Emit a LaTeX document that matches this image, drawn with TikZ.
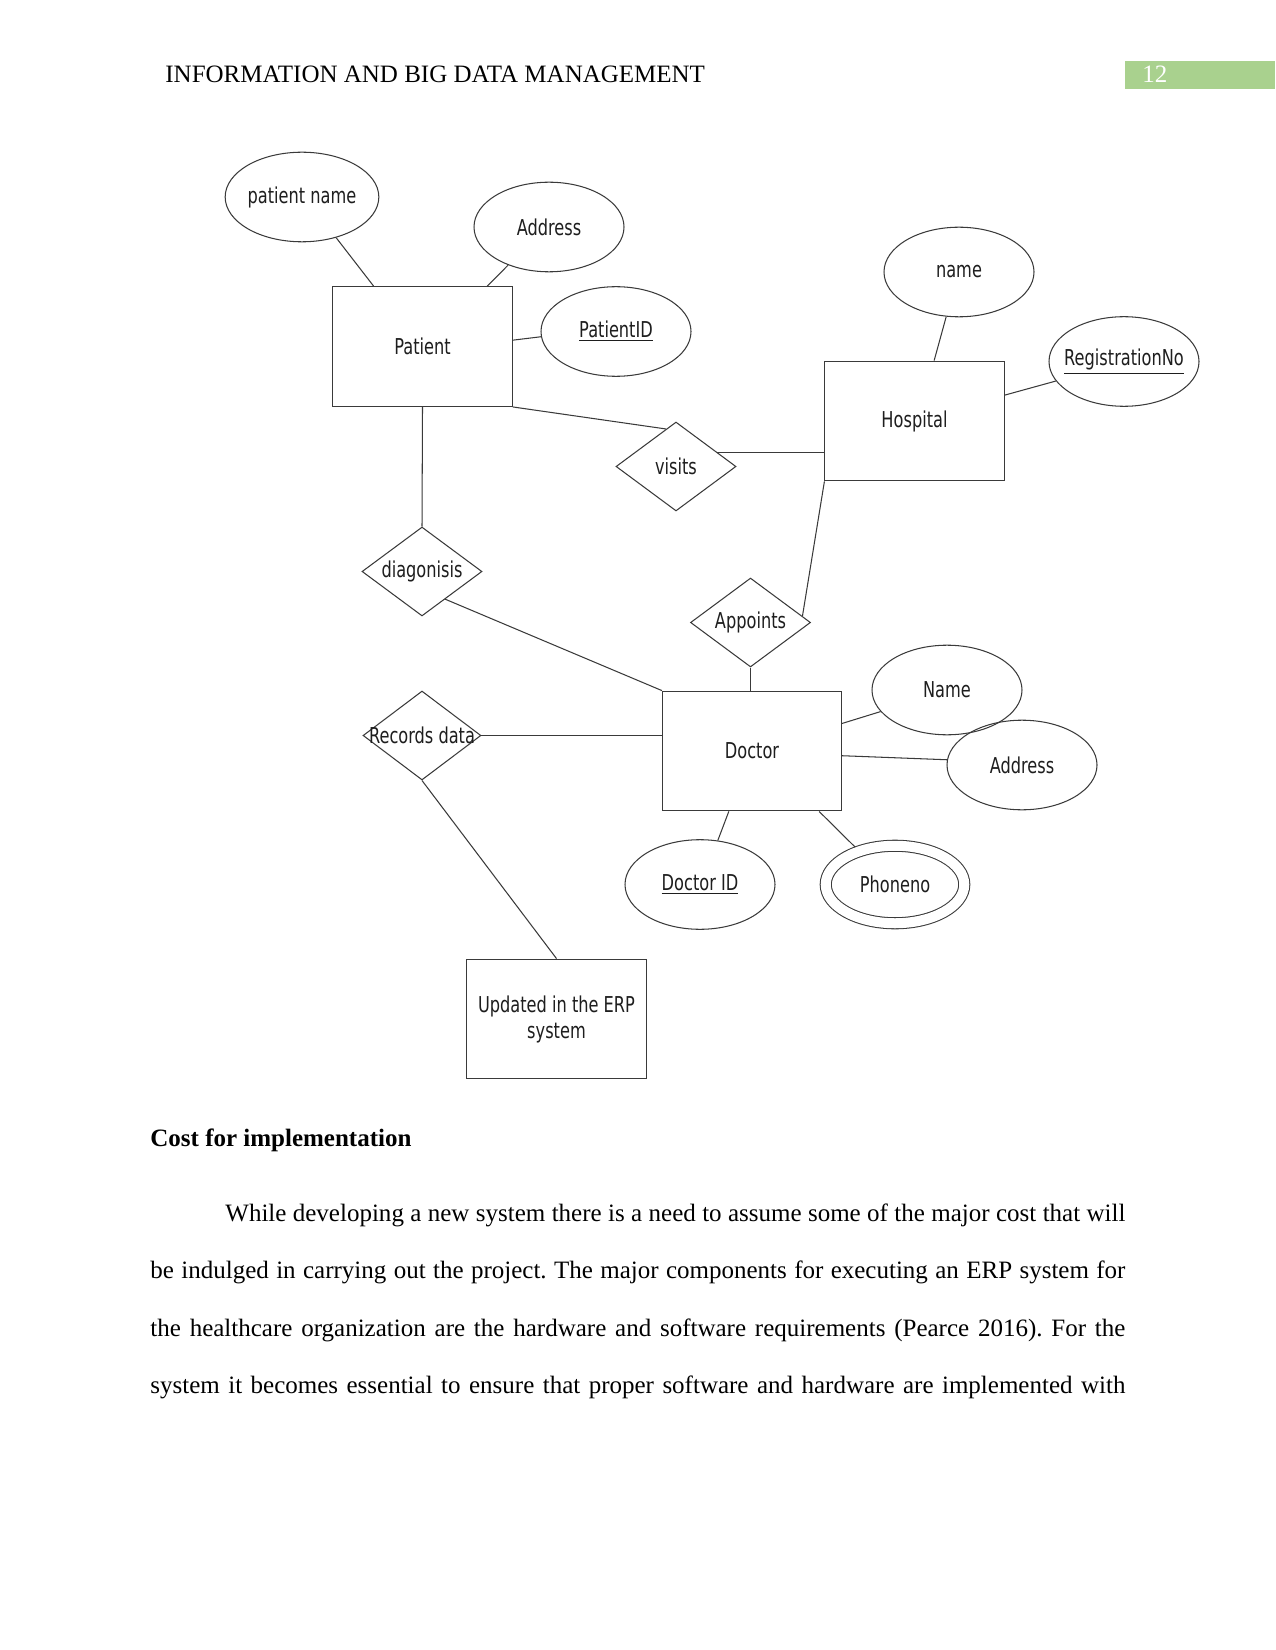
\documentclass[tikz,border=0pt]{standalone}
\usepackage{fontspec}
\setmainfont{Liberation Serif}
\newfontfamily\erfont[FakeStretch=0.74]{DejaVu Sans}
\usetikzlibrary{shapes.geometric,calc}
\definecolor{erline}{HTML}{3A3A3A}
\definecolor{ertext}{HTML}{1E1E1E}
\definecolor{pagegreen}{HTML}{A9D18E}
\frenchspacing

\begin{document}
\begin{tikzpicture}[
    x=0.48pt, y=-0.48pt,
    ertxt/.style={font=\erfont\fontsize{10.5}{12.5}\selectfont, text=ertext},
    ent/.style={draw=erline, line width=0.5pt, minimum width=86pt, minimum height=57.5pt,
                inner sep=0pt, align=center, ertxt},
    attr/.style={ellipse, draw=erline, line width=0.5pt, minimum width=72pt,
                 minimum height=43pt, inner sep=0pt, ertxt},
    rel/.style={diamond, draw=erline, line width=0.5pt, minimum width=57.6pt,
                minimum height=42.7pt, inner sep=0pt},
    link/.style={draw=erline, line width=0.5pt},
    body/.style={anchor=base west, inner sep=0pt, font=\fontsize{12}{14}\selectfont}
  ]
  \fill[white] (0,0) rectangle (1275,1650);
  \useasboundingbox (0,0) rectangle (1275,1650);

  % running head
  \node[body] (hdr) at (165,83) {INFORMATION AND BIG DATA MANAGEMENT};
  \node[fill=pagegreen, anchor=north west, minimum width=72pt, minimum height=13.4pt,
        inner sep=0pt] (pg) at (1125,61) {};
  \node[body, text=white] (pnum) at (1142,83) {12};

  % entities
  \node[ent] (pat) at (422.5,346.5) {Patient};
  \node[ent] (hosp) at (914.5,421) {Hospital};
  \node[ent] (doc) at (752,751) {Doctor};
  \node[ent] (erp) at (556.5,1019) {Updated in the ERP\\system};

  % attributes
  \node[attr] (pname) at (302,197) {patient name};
  \node[attr] (paddr) at (549,227) {Address};
  \node[attr] (pid) at (616,331.5) {\underline{PatientID}};
  \node[attr] (hname) at (959,272) {name};
  \node[attr, inner xsep=-10pt] (regno) at (1124,361.5) {\underline{RegistrationNo}};
  \node[attr] (dname) at (947,690) {Name};
  \node[attr] (daddr) at (1022,765) {Address};
  \node[attr] (did) at (700,884.5) {\underline{Doctor ID}};
  \node[attr, double, double distance=4.8pt, minimum width=66.5pt, minimum height=37.2pt]
    (phone) at (895,884.5) {Phoneno};

  % relationships
  \node[rel, label={[ertxt]center:visits}] (vis) at (676,466.5) {};
  \node[rel, label={[ertxt]center:diagonisis}] (diag) at (422,571.5) {};
  \node[rel, label={[ertxt]center:Appoints}] (app) at (750.5,622.5) {};
  \node[rel, minimum width=56.6pt, label={[ertxt]center:Records data}] (rec) at (422,735.5) {};

  % connectors
  \draw[link] (pname.-50.5) -- (pat.129.2);
  \draw[link] (paddr.223.6) -- (pat.43.1);
  \draw[link] (pat.4.8) -- (pid.184.2);
  \draw[link] (pat.south east) -- (vis.105.9);
  \draw[link] (vis.19.7) -- (vis.19.7 -| hosp.west);
  \draw[link] (hname.254.7) -- (hosp.72.9);
  \draw[link] (hosp.16.2) -- (regno.196.5);
  \draw[link] (pat.south) -- (diag.north);
  \draw[link] (diag.-50.1) -- (doc.north west);
  \draw[link] (hosp.south west) -- (app.7.8);
  \draw[link] (app.south) -- (app.south |- doc.north);
  \draw[link] (doc.17.9) -- (dname.198.2);
  \draw[link] (doc.-3.2) -- (daddr.176.9);
  \draw[link] (doc.249) -- (did.68.7);
  \draw[link, shorten >=2.6pt] (doc.-42.7) -- (phone.137.6);
  \draw[link] (rec.east) -- (rec.east -| doc.west);
  \draw[link] (rec.south) -- (erp.north);

  % text below the figure
  \node[body, font=\fontsize{12}{14}\selectfont\bfseries] (h1) at (150,1146) {Cost for implementation};
  \node[body] (b1) at (150,1221) {\makebox[468pt][s]{\hspace{36pt}While developing a new system there is a need to assume some of the major cost that will}};
  \node[body] (b2) at (150,1278.5) {\makebox[468pt][s]{be indulged in carrying out the project. The major components for executing an ERP system for}};
  \node[body] (b3) at (150,1336) {\makebox[468pt][s]{the healthcare organization are the hardware and software requirements (Pearce 2016). For the}};
  \node[body] (b4) at (150,1393.5) {\makebox[468pt][s]{system it becomes essential to ensure that proper software and hardware are implemented with}};
\end{tikzpicture}
\end{document}
